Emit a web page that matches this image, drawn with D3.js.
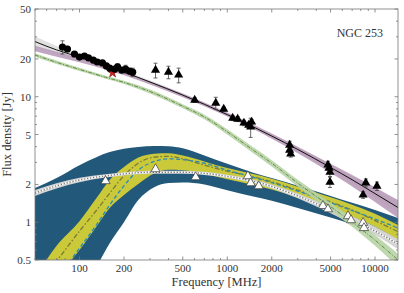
<!DOCTYPE html>
<html>
<head>
<meta charset="utf-8">
<script src="https://cdn.jsdelivr.net/npm/d3@7/dist/d3.min.js"></script>
<style>
    body { margin: 0; background: #fff; }
    svg text { font-family: "Liberation Serif", "DejaVu Serif", serif; fill: #333; }
</style>
</head>
<body>
<div id="chart"></div>
<script>
// frequency grids (MHz) the model curves are read at
var freqA = [50, 70, 100, 150, 200, 300, 500, 700, 1000, 1500, 2000, 3000, 5000, 7000, 10000, 14300];
var freqB = [50, 70, 100, 130, 160, 200, 250, 320, 400, 500, 700, 1000, 1500, 2000, 3000, 5000, 7000, 10000, 14300];

// black model with its grey and purple bands (on freqA)
var blackFit = [27.5, 23.6, 20.7, 17.7, 15.7, 13.1, 10.3, 8.7, 7.2, 5.75, 4.86, 3.80, 2.73, 2.18, 1.69, 1.31];
var greyLo   = [25.0, 22.0, 19.7, 17.1, 15.2, 12.7, 10.0, 8.45, 7.0, 5.58, 4.70, 3.65, 2.60, 2.05, 1.57, 1.19];
var greyHi   = [30.3, 25.4, 21.8, 18.3, 16.2, 13.5, 10.6, 8.95, 7.4, 5.92, 5.02, 3.95, 2.87, 2.31, 1.82, 1.44];
var purpleLo = [23.0, 20.8, 18.8, 16.5, 14.8, 12.5, 9.9, 8.4, 6.95, 5.52, 4.62, 3.55, 2.48, 1.93, 1.45, 1.08];
var purpleHi = [25.5, 22.8, 20.4, 17.6, 15.7, 13.3, 10.6, 9.0, 7.5, 6.0, 5.1, 4.0, 2.92, 2.38, 1.90, 1.50];

// green dash-dot model and band (on freqA)
var greenFit = [21.5, 18.8, 16.5, 14.3, 13.0, 11.0, 8.4, 6.9, 5.25, 3.75, 2.95, 2.05, 1.33, 1.0, 0.72, 0.5];
var greenLo  = [20.8, 18.2, 16.0, 13.9, 12.6, 10.6, 8.1, 6.6, 5.0, 3.55, 2.78, 1.92, 1.23, 0.92, 0.65, 0.44];
var greenHi  = [22.2, 19.4, 17.0, 14.7, 13.4, 11.4, 8.7, 7.2, 5.5, 3.95, 3.12, 2.18, 1.43, 1.08, 0.79, 0.56];

// white dotted model and band (on freqA)
var dotFit = [1.71, 1.95, 2.17, 2.34, 2.43, 2.5, 2.5, 2.45, 2.32, 2.12, 1.93, 1.62, 1.25, 1.04, 0.85, 0.67];
var dotLo  = [1.62, 1.86, 2.08, 2.27, 2.36, 2.43, 2.43, 2.38, 2.25, 2.05, 1.86, 1.55, 1.18, 0.97, 0.79, 0.61];
var dotHi  = [1.81, 2.04, 2.26, 2.41, 2.50, 2.57, 2.57, 2.52, 2.39, 2.19, 2.00, 1.69, 1.32, 1.11, 0.92, 0.73];

// peaked models (on freqB)
var darkHi   = [1.87, 2.25, 2.85, 3.3, 3.62, 3.85, 3.98, 4.05, 4.03, 3.88, 3.4, 2.92, 2.48, 2.25, 1.95, 1.62, 1.43, 1.25, 1.08];
var darkLo   = [0.1, 0.16, 0.27, 0.44, 0.68, 1.0, 1.5, 1.9, 2.05, 2.07, 2.0, 1.8, 1.6, 1.48, 1.3, 1.09, 0.96, 0.82, 0.66];
var yellowHi = [0.36, 0.65, 1.02, 1.55, 2.17, 2.75, 3.28, 3.52, 3.55, 3.4, 3.05, 2.7, 2.42, 2.22, 1.92, 1.58, 1.38, 1.17, 0.95];
var yellowLo = [0.22, 0.36, 0.6, 0.92, 1.3, 1.65, 2.02, 2.45, 2.62, 2.6, 2.42, 2.2, 1.98, 1.82, 1.57, 1.27, 1.1, 0.92, 0.72];
var tealFit  = [0.2, 0.35, 0.62, 0.95, 1.37, 1.95, 2.6, 3.05, 3.2, 3.15, 2.95, 2.6, 2.28, 2.07, 1.77, 1.43, 1.24, 1.06, 0.90];
var oliveFit = [0.3, 0.49, 0.85, 1.24, 1.7, 2.35, 2.95, 3.3, 3.35, 3.2, 2.85, 2.55, 2.3, 2.1, 1.8, 1.45, 1.25, 1.03, 0.84];

// measurements
var circleFreq = [76.7, 82.9, 92.5, 100, 108, 115, 124, 132, 143, 152, 160, 173, 181, 193, 205, 218, 229];
var circleFlux = [24.9, 24.0, 21.9, 20.7, 21.1, 20.4, 19.6, 18.9, 18.6, 17.6, 16.9, 16.6, 17.3, 16.3, 16.6, 16.0, 15.7];
var circleErr  = [3.0, 1.2, 0.8, 0.8, 0.8, 0.8, 0.8, 0.8, 0.8, 0.8, 0.8, 0.8, 1.0, 0.8, 1.2, 0.8, 1.2];

var starFreq = [167.5];
var starFlux = [15.5];

var triFreq = [327, 400, 469, 602, 836, 946, 1088, 1176, 1296, 1396, 1440, 1461, 2643, 2643, 2686, 4800, 4875, 4955, 4955, 8660, 10300, 8300];
var triFlux = [16.3, 15.7, 14.9, 9.4, 8.9, 7.98, 6.76, 6.64, 6.18, 5.95, 5.74, 6.29, 4.12, 3.76, 3.50, 2.86, 2.70, 2.51, 2.09, 2.06, 1.94, 1.65];
var triErr  = [2.2, 1.8, 2.0, 0.4, 1.0, 0.3, 0.3, 0.3, 0.3, 0.3, 1.0, 0.3, 0.3, 0.2, 0.2, 0.2, 0.2, 0.2, 0.2, 0.15, 0.15, 0.1];

var openFreq = [150, 327, 611, 1379, 1440, 1634, 4440, 4800, 6560, 6880, 8300, 8420];
var openFlux = [2.13, 2.65, 2.29, 2.33, 2.05, 1.94, 1.35, 1.27, 1.12, 1.04, 0.99, 0.90];

var xTickValues = [100, 200, 500, 1000, 2000, 5000, 10000];
var yTickValues = [0.5, 1, 2, 5, 10, 20, 50];

(function() {
    "use strict";
    var W = 404, H = 293,
        left = 35, right = 398, top = 9, bottom = 260;

    var x = d3.scaleLog().domain([50, 14300]).range([left, right]),
        y = d3.scaleLog().domain([0.5, 50]).range([bottom, top]);

    var svg = d3.select("#chart").append("svg")
        .attr("width", W)
        .attr("height", H);

    svg.append("clipPath").attr("id", "plotclip")
        .append("rect")
        .attr("x", left).attr("y", top)
        .attr("width", right - left).attr("height", bottom - top);

    var plot = svg.append("g").attr("clip-path", "url(#plotclip)");

    function pts(freqs, vals) {
        return freqs.map(function(f, i) { return [f, vals[i]]; });
    }
    function band(freqs, lo, hi) {
        return freqs.map(function(f, i) { return [f, lo[i], hi[i]]; });
    }

    var line = d3.line()
        .x(function(d) { return x(d[0]); })
        .y(function(d) { return y(d[1]); })
        .curve(d3.curveMonotoneX);
    var area = d3.area()
        .x(function(d) { return x(d[0]); })
        .y0(function(d) { return y(d[1]); })
        .y1(function(d) { return y(d[2]); })
        .curve(d3.curveMonotoneX);

    // peaked models
    plot.append("path").datum(band(freqB, darkLo, darkHi))
        .attr("d", area).attr("fill", "#22587a");
    plot.append("path").datum(band(freqB, yellowLo, yellowHi))
        .attr("d", area).attr("fill", "#c9c93a");
    plot.append("path").datum(pts(freqB, oliveFit))
        .attr("d", line).attr("fill", "none")
        .attr("stroke", "#7d7a35").attr("stroke-width", 1.3)
        .attr("stroke-dasharray", "5,2,1.5,2");
    plot.append("path").datum(pts(freqB, tealFit))
        .attr("d", line).attr("fill", "none")
        .attr("stroke", "#2a8bb5").attr("stroke-width", 1.3)
        .attr("stroke-dasharray", "4,2.5");

    // white dotted model
    plot.append("path").datum(band(freqA, dotLo, dotHi))
        .attr("d", area).attr("fill", "#d4d4d4");
    plot.append("path").datum(pts(freqA, dotFit))
        .attr("d", line).attr("fill", "none")
        .attr("stroke", "#fff").attr("stroke-width", 1.6);
    plot.append("path").datum(pts(freqA, dotFit))
        .attr("d", line).attr("fill", "none")
        .attr("stroke", "#777").attr("stroke-width", 1.4)
        .attr("stroke-dasharray", "1.3,1.7");

    // green model
    plot.append("path").datum(band(freqA, greenLo, greenHi))
        .attr("d", area).attr("fill", "#b8d3a5").attr("opacity", 0.9);
    plot.append("path").datum(pts(freqA, greenFit))
        .attr("d", line).attr("fill", "none")
        .attr("stroke", "#5f8f45").attr("stroke-width", 1)
        .attr("stroke-dasharray", "4,1.5,1,1.5");

    // black model
    plot.append("path").datum(band(freqA, greyLo, greyHi))
        .attr("d", area).attr("fill", "#dcdcdc").attr("opacity", 0.85);
    plot.append("path").datum(band(freqA, purpleLo, purpleHi))
        .attr("d", area).attr("fill", "#b596b5").attr("opacity", 0.85);
    plot.append("path").datum(pts(freqA, blackFit))
        .attr("d", line).attr("fill", "none")
        .attr("stroke", "#111").attr("stroke-width", 1);

    // error bars
    function errorBars(freqs, vals, errs) {
        var g = plot.append("g")
            .attr("stroke", "#444").attr("stroke-width", 0.8);
        freqs.forEach(function(f, i) {
            var cx = x(f), y0 = y(vals[i] - errs[i]), y1 = y(vals[i] + errs[i]);
            g.append("line").attr("x1", cx).attr("x2", cx).attr("y1", y0).attr("y2", y1);
            g.append("line").attr("x1", cx - 2).attr("x2", cx + 2).attr("y1", y0).attr("y2", y0);
            g.append("line").attr("x1", cx - 2).attr("x2", cx + 2).attr("y1", y1).attr("y2", y1);
        });
    }
    errorBars(circleFreq, circleFlux, circleErr);
    errorBars(triFreq, triFlux, triErr);

    plot.selectAll("path.star")
        .data(pts(starFreq, starFlux))
        .enter().append("path")
        .attr("class", "star")
        .attr("d", d3.symbol().type(d3.symbolStar).size(30))
        .attr("transform", function(d) { return "translate(" + x(d[0]) + "," + y(d[1]) + ")"; })
        .attr("fill", "#d42020").attr("stroke", "#600").attr("stroke-width", 0.5);

    plot.selectAll("circle.obs")
        .data(pts(circleFreq, circleFlux))
        .enter().append("circle")
        .attr("class", "obs")
        .attr("cx", function(d) { return x(d[0]); })
        .attr("cy", function(d) { return y(d[1]); })
        .attr("r", 3.6)
        .attr("fill", "#000");

    var tri = d3.symbol().type(d3.symbolTriangle).size(36);
    plot.selectAll("path.tri")
        .data(pts(triFreq, triFlux))
        .enter().append("path")
        .attr("class", "tri")
        .attr("d", tri)
        .attr("transform", function(d) { return "translate(" + x(d[0]) + "," + y(d[1]) + ")"; })
        .attr("fill", "#000");

    plot.selectAll("path.opentri")
        .data(pts(openFreq, openFlux))
        .enter().append("path")
        .attr("class", "opentri")
        .attr("d", tri)
        .attr("transform", function(d) { return "translate(" + x(d[0]) + "," + y(d[1]) + ")"; })
        .attr("fill", "#fff").attr("stroke", "#333").attr("stroke-width", 0.7);

    // frame and ticks (inward, all sides)
    var axes = svg.append("g").attr("stroke", "#777").attr("stroke-width", 0.8);
    axes.append("rect")
        .attr("x", left).attr("y", top)
        .attr("width", right - left).attr("height", bottom - top)
        .attr("fill", "none");

    var xMinor = [], yMinor = [];
    [10, 100, 1000, 10000].forEach(function(dec) {
        for (var k = 1; k < 10; ++k) {
            var v = k * dec;
            if (v >= 50 && v <= 14300 && xTickValues.indexOf(v) < 0) xMinor.push(v);
        }
    });
    [0.1, 1, 10].forEach(function(dec) {
        for (var k = 1; k < 10; ++k) {
            var v = +(k * dec).toFixed(2);
            if (v > 0.5 && v < 50 && yTickValues.indexOf(v) < 0) yMinor.push(v);
        }
    });

    function xTick(v, len) {
        axes.append("line").attr("x1", x(v)).attr("x2", x(v)).attr("y1", bottom).attr("y2", bottom - len);
        axes.append("line").attr("x1", x(v)).attr("x2", x(v)).attr("y1", top).attr("y2", top + len);
    }
    function yTick(v, len) {
        axes.append("line").attr("y1", y(v)).attr("y2", y(v)).attr("x1", left).attr("x2", left + len);
        axes.append("line").attr("y1", y(v)).attr("y2", y(v)).attr("x1", right).attr("x2", right - len);
    }
    xTickValues.forEach(function(v) { xTick(v, 3.5); });
    xMinor.forEach(function(v) { xTick(v, 2); });
    yTickValues.forEach(function(v) { yTick(v, 3.5); });
    yMinor.forEach(function(v) { yTick(v, 2); });

    svg.append("g").selectAll("text")
        .data(xTickValues)
        .enter().append("text")
        .attr("x", function(d) { return x(d); })
        .attr("y", 272)
        .attr("text-anchor", "middle")
        .style("font-size", "11px")
        .text(function(d) { return d; });

    svg.append("g").selectAll("text")
        .data(yTickValues)
        .enter().append("text")
        .attr("x", 31)
        .attr("y", function(d) { return y(d) + 4; })
        .attr("text-anchor", "end")
        .style("font-size", "11px")
        .text(function(d) { return d; });

    svg.append("text")
        .attr("x", (left + right) / 2)
        .attr("y", 286)
        .attr("text-anchor", "middle")
        .style("font-size", "12.5px")
        .text("Frequency [MHz]");

    svg.append("text")
        .attr("transform", "translate(11," + ((top + bottom) / 2) + ") rotate(-90)")
        .attr("text-anchor", "middle")
        .style("font-size", "12.5px")
        .text("Flux density [Jy]");

    svg.append("text")
        .attr("x", 383)
        .attr("y", 37)
        .attr("text-anchor", "end")
        .style("font-size", "12px")
        .text("NGC 253");
}());
</script>
</body>
</html>
